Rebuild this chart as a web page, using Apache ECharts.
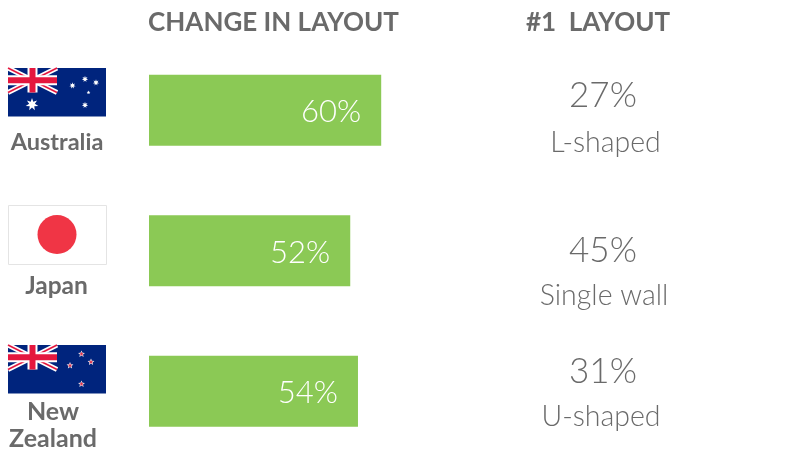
<!DOCTYPE html>
<html><head><meta charset="utf-8">
<style>html,body{margin:0;padding:0;background:#fff}#c{width:790px;height:449px}</style>
<script src="https://cdn.jsdelivr.net/npm/echarts@6/dist/echarts.min.js"></script>
</head><body><div id="c"></div>
<script>
const countries = ['Australia', 'Japan', 'New\nZealand'];
const changeInLayout = [60, 52, 54];
const topLayoutShare = [27, 45, 31];
const topLayoutName = ['L-shaped', 'Single wall', 'U-shaped'];
const headers = ['CHANGE IN LAYOUT', '#1  LAYOUT'];

const GREY = '#6a6a6a';
const NAVY = '#00247d', RED = '#e4173e';
const chart = echarts.init(document.getElementById('c'), null, {renderer: 'canvas'});

function star(cx, cy, R, fill, n, inner) {
  const pts = [];
  for (let i = 0; i < n * 2; i++) {
    const r = i % 2 ? R * inner : R, a = -Math.PI / 2 + i * Math.PI / n;
    pts.push([cx + r * Math.cos(a), cy + r * Math.sin(a)]);
  }
  return {type: 'polygon', silent: true, shape: {points: pts}, style: {fill}};
}
function rect(x, y, w, h, fill) { return {type: 'rect', silent: true, shape: {x, y, width: w, height: h}, style: {fill}}; }
function line(x1, y1, x2, y2, w, c) { return {type: 'line', silent: true, shape: {x1, y1, x2, y2}, style: {stroke: c, lineWidth: w}}; }
function union(x, y) {
  const W = 49, H = 24.5;
  return [
    rect(x, y, W, H, NAVY),
    line(x, y, x + W, y + H, 5, '#fff'), line(x + W, y, x, y + H, 5, '#fff'),
    line(x, y, x + W, y + H, 1.6, RED), line(x + W, y, x, y + H, 1.6, RED),
    rect(x + W / 2 - 5, y, 10, H, '#fff'), rect(x, y + H / 2 - 5, W, 10, '#fff'),
    rect(x + W / 2 - 3, y, 6, H, RED), rect(x, y + H / 2 - 3, W, 6, RED)
  ];
}
const flags = [
  rect(8, 68, 98, 48.5, NAVY), ...union(8, 68),
  star(32, 104.5, 6.5, '#fff', 7, 0.45), star(72.5, 85.5, 3.2, '#fff', 7, 0.45), star(85, 79, 3.2, '#fff', 7, 0.45),
  star(96, 82.5, 3.2, '#fff', 7, 0.45), star(88.5, 92.5, 2, '#fff', 5, 0.45), star(85, 105, 3.2, '#fff', 7, 0.45),
  {type: 'rect', silent: true, shape: {x: 8.5, y: 205.5, width: 98, height: 59}, style: {fill: '#fff', stroke: '#e4e4e4', lineWidth: 1}},
  {type: 'circle', silent: true, shape: {cx: 57, cy: 234.5, r: 19.5}, style: {fill: '#f03545'}},
  rect(8, 345, 98, 48.5, NAVY), ...union(8, 345),
  star(81.5, 354, 3.6, '#fff', 5, 0.45), star(81.5, 354, 2.4, '#d8354f', 5, 0.45),
  star(70, 365.5, 3.6, '#fff', 5, 0.45), star(70, 365.5, 2.4, '#d8354f', 5, 0.45),
  star(91, 362, 3.6, '#fff', 5, 0.45), star(91, 362, 2.4, '#d8354f', 5, 0.45),
  star(81.5, 384, 3.6, '#fff', 5, 0.45), star(81.5, 384, 2.4, '#d8354f', 5, 0.45)
];
function txt(s, x, y, size, weight, extra) {
  return {type: 'text', silent: true, x, y, style: Object.assign({text: s, fill: GREY, font: weight + ' ' + size + 'px Lato', align: 'center', verticalAlign: 'middle'}, extra || {})};
}
const countryX = [57, 56.5, 53], countryY = [142.5, 286.5, 425], countrySize = [23.5, 24.5, 25];
const shareY = [96, 251, 372], nameY = [142.5, 295.5, 416.5], shareX = [603, 603, 603], nameX = [605.5, 604, 601];
const texts = [
  txt(headers[0], 273.5, 23, 26, 700),
  txt(headers[1], 598, 23, 26, 700),
  ...countries.map((c, i) => txt(c, countryX[i], countryY[i], countrySize[i], 700, {lineHeight: 27})),
  ...topLayoutShare.map((v, i) => txt(v + '%', shareX[i], shareY[i], 35, 300)),
  ...topLayoutName.map((n, i) => txt(n, nameX[i], nameY[i], 28.5, 300))
];

chart.setOption({
  animation: false,
  backgroundColor: '#ffffff',
  grid: {left: 149, top: 40, width: 387, height: 421.5, outerBoundsMode: 'none'},
  xAxis: {type: 'value', min: 0, max: 100, show: false},
  yAxis: {type: 'category', inverse: true, data: countries, show: false},
  series: [{
    type: 'bar', data: changeInLayout, barWidth: 71,
    itemStyle: {color: '#8bc955'},
    label: {show: true, position: 'insideRight', distance: 20, offset: [0, 2], formatter: '{c}%', color: '#ffffff', fontFamily: 'Lato', fontWeight: 300, fontSize: 31}
  }],
  graphic: [...flags, ...texts]
});
</script></body></html>
